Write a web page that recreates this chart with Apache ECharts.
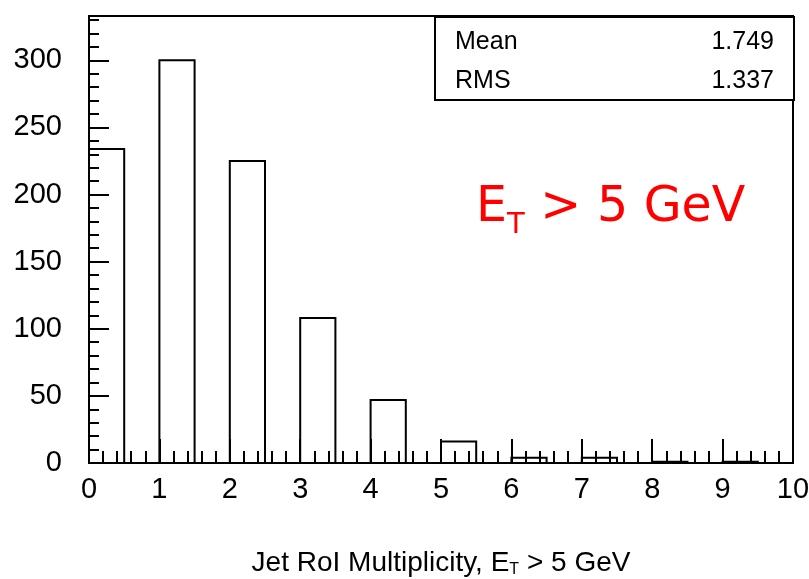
<!DOCTYPE html>
<html>
<head>
<meta charset="utf-8">
<script src="https://cdn.jsdelivr.net/npm/echarts@6/dist/echarts.min.js"></script>
<style>html,body{margin:0;padding:0;background:#fff;}#c{width:809px;height:579px;}</style>
</head>
<body>
<div id="c"></div>
<script>
// ---- data ----
const binEdges = [0, 0.5, 1, 1.5, 2, 2.5, 3, 3.5, 4, 4.5, 5, 5.5, 6, 6.5, 7, 7.5, 8, 8.5, 9, 9.5, 10];
const binCounts = [234, 0, 300, 0, 225, 0, 108, 0, 47, 0, 16, 0, 4, 0, 4, 0, 1, 0, 1, 0];
const xTicks = [0, 1, 2, 3, 4, 5, 6, 7, 8, 9, 10];
const yMajorTicks = [0, 50, 100, 150, 200, 250, 300];
const statsLabels = ['Mean', 'RMS'];
const statsValues = ['1.749', '1.337'];
const xTitle = ['Jet RoI Multiplicity, E', 'T', ' > 5 GeV'];
const annotation = ['E', 'T', ' > 5 GeV'];

const yMax = 333;
const histData = binCounts.map((c, i) => [binEdges[i], binEdges[i + 1], c]);

const labelFont = 'Liberation Sans, Arial, sans-serif';
const chart = echarts.init(document.getElementById('c'), null, {renderer: 'canvas'});

const option = {
  backgroundColor: '#fff',
  animation: false,
  title: {
    text: '{e|' + annotation[0] + '}{t|' + annotation[1] + '}{e|' + annotation[2] + '}',
    left: 471, top: 171,
    textStyle: {
      fontWeight: 'normal',
      rich: {
        e: {fontSize: 49, color: '#ff0000', fontFamily: 'DejaVu Sans', fontWeight: 'normal', lineHeight: 64},
        t: {fontSize: 29, color: '#ff0000', fontFamily: 'DejaVu Sans', fontWeight: 'normal', lineHeight: 26, verticalAlign: 'bottom'}
      }
    }
  },
  grid: {left: 89, right: 16, top: 16, bottom: 116, show: true, borderColor: '#000', borderWidth: 2, containLabel: false, outerBoundsMode: 'none'},
  xAxis: {
    type: 'value', min: xTicks[0], max: xTicks[xTicks.length - 1], interval: 1,
    axisLine: {show: true, lineStyle: {color: '#000', width: 2}},
    axisTick: {show: true, inside: true, length: 24, lineStyle: {color: '#000', width: 2}},
    minorTick: {show: true, splitNumber: 5, length: 12, lineStyle: {color: '#000', width: 2}},
    splitLine: {show: false}, minorSplitLine: {show: false},
    axisLabel: {color: '#000', fontSize: 29, fontFamily: labelFont, margin: 12,
      formatter: v => xTicks.indexOf(v) >= 0 ? String(v) : ''},
    name: '{n|' + xTitle[0] + '}{s|' + xTitle[1] + '}{n|' + xTitle[2] + '}',
    nameLocation: 'middle', nameGap: 85,
    nameTextStyle: {
      rich: {
        n: {fontSize: 28, color: '#000', fontFamily: labelFont, lineHeight: 30},
        s: {fontSize: 16, color: '#000', fontFamily: labelFont, lineHeight: 16, verticalAlign: 'bottom'}
      }
    }
  },
  yAxis: [
    {
      type: 'value', min: 0, max: yMax, interval: 50, position: 'left',
      axisLine: {show: true, lineStyle: {color: '#000', width: 2}},
      axisTick: {show: true, inside: true, length: 20, lineStyle: {color: '#000', width: 2}},
      splitLine: {show: false},
      axisLabel: {color: '#000', fontSize: 29, fontFamily: labelFont, margin: 27, showMaxLabel: false,
        formatter: v => yMajorTicks.indexOf(v) >= 0 ? String(v) : ''}
    },
    {
      type: 'value', min: 0, max: yMax, interval: 10, position: 'left',
      axisLine: {show: false},
      axisTick: {show: true, inside: true, length: 10, lineStyle: {color: '#000', width: 2}},
      splitLine: {show: false},
      axisLabel: {show: false}
    }
  ],
  graphic: [
    {type: 'rect', left: 434, top: 16, z: 100, shape: {width: 359, height: 83},
      style: {fill: '#fff', stroke: '#000', lineWidth: 2}},
    {type: 'text', left: 455, top: 30, z: 101,
      style: {text: statsLabels[0], fontSize: 25, fontFamily: labelFont, fill: '#000'}},
    {type: 'text', left: 455, top: 69, z: 101,
      style: {text: statsLabels[1], fontSize: 25, fontFamily: labelFont, fill: '#000'}},
    {type: 'text', right: 35, top: 30, z: 101,
      style: {text: statsValues[0], fontSize: 25, fontFamily: labelFont, fill: '#000'}},
    {type: 'text', right: 35, top: 69, z: 101,
      style: {text: statsValues[1], fontSize: 25, fontFamily: labelFont, fill: '#000'}}
  ],
  series: [{
    type: 'custom',
    xAxisIndex: 0, yAxisIndex: 0,
    data: histData,
    renderItem: function (params, api) {
      const p0 = api.coord([api.value(0), 0]);
      const p1 = api.coord([api.value(1), api.value(2)]);
      return {
        type: 'rect',
        shape: {x: p0[0], y: p1[1], width: p1[0] - p0[0], height: p0[1] - p1[1]},
        style: {fill: 'none', stroke: '#000', lineWidth: 2}
      };
    }
  }]
};
chart.setOption(option);
</script>
</body>
</html>
